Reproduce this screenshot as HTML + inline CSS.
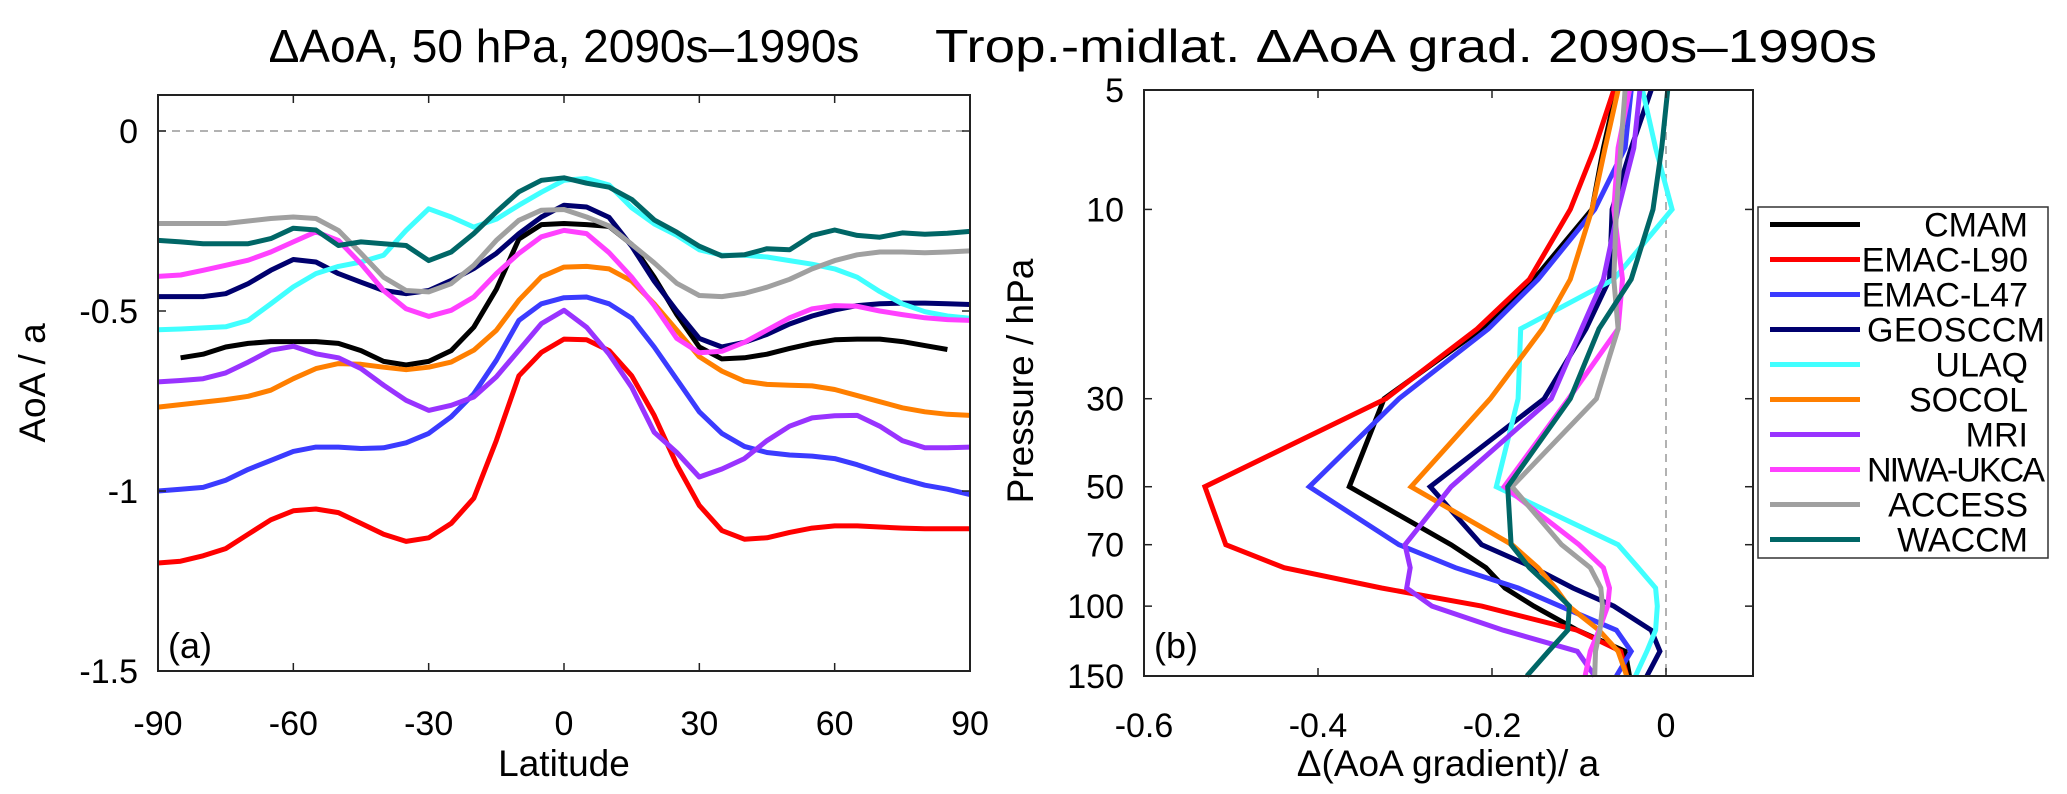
<!DOCTYPE html>
<html><head><meta charset="utf-8"><style>
html,body{margin:0;padding:0;background:#fff;}
svg{display:block;font-family:"Liberation Sans",sans-serif;}
</style></head><body>
<svg id="fig" width="2067" height="794" viewBox="0 0 2067 794" xmlns="http://www.w3.org/2000/svg">
<g id="pa"></g>
<g id="pb"></g>
<g id="lg"></g>
</svg>
<script>
const models = ["CMAM","EMAC-L90","EMAC-L47","GEOSCCM","ULAQ","SOCOL","MRI","NIWA-UKCA","ACCESS","WACCM"];
const colors = ["#000000","#ff0000","#3b3bff","#00006e","#40ffff","#ff7f00","#9933ff","#ff40ff","#a0a0a0","#006666"];
const lats = [-90,-85,-80,-75,-70,-65,-60,-55,-50,-45,-40,-35,-30,-25,-20,-15,-10,-5,0,5,10,15,20,25,30,35,40,45,50,55,60,65,70,75,80,85,90];
const aCMAM = [null,-0.63,-0.62,-0.60,-0.59,-0.585,-0.585,-0.585,-0.59,-0.61,-0.64,-0.65,-0.64,-0.61,-0.545,-0.44,-0.30,-0.26,-0.257,-0.26,-0.265,-0.315,-0.406,-0.51,-0.60,-0.633,-0.63,-0.62,-0.604,-0.59,-0.58,-0.578,-0.578,-0.585,-0.596,-0.607,null];
const aL90 = [-1.20,-1.195,-1.18,-1.16,-1.12,-1.08,-1.055,-1.05,-1.06,-1.09,-1.12,-1.14,-1.13,-1.09,-1.02,-0.86,-0.68,-0.615,-0.578,-0.58,-0.61,-0.68,-0.79,-0.927,-1.04,-1.11,-1.134,-1.13,-1.115,-1.103,-1.097,-1.097,-1.1,-1.103,-1.105,-1.105,-1.105];
const aL47 = [-1.0,-0.995,-0.99,-0.97,-0.94,-0.915,-0.89,-0.878,-0.878,-0.882,-0.88,-0.866,-0.84,-0.794,-0.73,-0.637,-0.526,-0.48,-0.463,-0.461,-0.48,-0.52,-0.60,-0.69,-0.78,-0.84,-0.876,-0.893,-0.90,-0.903,-0.91,-0.927,-0.948,-0.967,-0.984,-0.995,-1.01];
const aGEOS = [-0.46,-0.46,-0.46,-0.452,-0.424,-0.387,-0.357,-0.364,-0.396,-0.42,-0.443,-0.452,-0.443,-0.415,-0.382,-0.34,-0.285,-0.239,-0.206,-0.211,-0.24,-0.32,-0.417,-0.50,-0.576,-0.60,-0.587,-0.565,-0.536,-0.514,-0.497,-0.485,-0.48,-0.478,-0.478,-0.48,-0.482];
const aULAQ = [-0.552,-0.55,-0.547,-0.544,-0.526,-0.48,-0.433,-0.396,-0.376,-0.364,-0.345,-0.276,-0.216,-0.239,-0.267,-0.245,-0.206,-0.17,-0.137,-0.132,-0.15,-0.213,-0.258,-0.29,-0.33,-0.345,-0.345,-0.35,-0.36,-0.37,-0.383,-0.406,-0.446,-0.48,-0.502,-0.514,-0.52];
const aSOCOL = [-0.767,-0.76,-0.753,-0.746,-0.737,-0.72,-0.688,-0.66,-0.646,-0.648,-0.656,-0.663,-0.656,-0.642,-0.609,-0.554,-0.47,-0.405,-0.378,-0.376,-0.383,-0.417,-0.48,-0.553,-0.627,-0.667,-0.695,-0.704,-0.706,-0.708,-0.718,-0.735,-0.752,-0.769,-0.78,-0.787,-0.79];
const aMRI = [-0.697,-0.693,-0.688,-0.672,-0.642,-0.609,-0.598,-0.619,-0.63,-0.66,-0.706,-0.748,-0.776,-0.762,-0.739,-0.683,-0.609,-0.535,-0.498,-0.545,-0.62,-0.712,-0.837,-0.893,-0.961,-0.939,-0.91,-0.86,-0.82,-0.797,-0.791,-0.79,-0.82,-0.86,-0.88,-0.88,-0.878];
const aNIWA = [-0.404,-0.40,-0.387,-0.373,-0.359,-0.336,-0.308,-0.28,-0.304,-0.369,-0.443,-0.494,-0.515,-0.498,-0.461,-0.396,-0.34,-0.294,-0.276,-0.285,-0.338,-0.406,-0.485,-0.576,-0.616,-0.612,-0.587,-0.553,-0.519,-0.494,-0.485,-0.487,-0.50,-0.51,-0.519,-0.524,-0.526];
const aACCESS = [-0.257,-0.257,-0.257,-0.257,-0.25,-0.243,-0.239,-0.243,-0.276,-0.34,-0.406,-0.443,-0.447,-0.424,-0.373,-0.304,-0.248,-0.22,-0.218,-0.239,-0.264,-0.315,-0.366,-0.423,-0.457,-0.46,-0.451,-0.434,-0.412,-0.383,-0.36,-0.344,-0.336,-0.336,-0.338,-0.336,-0.333];
const aWACCM = [-0.304,-0.308,-0.313,-0.313,-0.313,-0.299,-0.27,-0.275,-0.318,-0.308,-0.313,-0.318,-0.36,-0.336,-0.285,-0.225,-0.169,-0.137,-0.13,-0.145,-0.156,-0.19,-0.247,-0.281,-0.32,-0.347,-0.344,-0.327,-0.33,-0.29,-0.275,-0.29,-0.295,-0.283,-0.287,-0.284,-0.279];
const aTicksX = [-90,-60,-30,0,30,60,90];
const aTicksY = [0,-0.5,-1,-1.5];
const aTickLabelsY = ["0","-0.5","-1","-1.5"];

const levels = [5,7,10,15,20,30,50,70,80,90,100,115,130,150];
const bCMAM = [-0.057,-0.072,-0.085,-0.152,-0.212,-0.324,-0.364,-0.247,-0.207,-0.185,-0.152,-0.102,-0.047,-0.042];
const bL90 = [-0.06,-0.082,-0.11,-0.157,-0.217,-0.322,-0.53,-0.506,-0.439,-0.327,-0.212,-0.102,-0.052,-0.045];
const bL47 = [-0.04,-0.047,-0.082,-0.147,-0.204,-0.307,-0.41,-0.307,-0.242,-0.17,-0.122,-0.057,-0.04,-0.057];
const bGEOS = [-0.017,-0.04,-0.062,-0.065,-0.092,-0.14,-0.271,-0.212,-0.152,-0.107,-0.06,-0.017,-0.007,-0.022];
const bULAQ = [-0.027,-0.012,0.007,-0.06,-0.167,-0.17,-0.195,-0.055,-0.032,-0.012,-0.01,-0.012,-0.022,-0.035];
const bSOCOL = [-0.055,-0.07,-0.085,-0.11,-0.142,-0.202,-0.293,-0.177,-0.147,-0.127,-0.112,-0.077,-0.055,-0.045];
const bMRI = [-0.03,-0.037,-0.055,-0.072,-0.097,-0.132,-0.247,-0.3,-0.294,-0.298,-0.269,-0.187,-0.102,-0.082];
const bNIWA = [-0.042,-0.055,-0.06,-0.05,-0.055,-0.112,-0.186,-0.1,-0.072,-0.065,-0.067,-0.077,-0.087,-0.093];
const bACCESS = [-0.047,-0.052,-0.057,-0.06,-0.055,-0.08,-0.177,-0.12,-0.087,-0.075,-0.073,-0.076,-0.081,-0.082];
const bWACCM = [0.002,-0.005,-0.015,-0.04,-0.077,-0.11,-0.182,-0.178,-0.157,-0.132,-0.111,-0.113,-0.135,-0.16];
const bTicksX = [-0.6,-0.4,-0.2,0];
const bTickLabelsX = ["-0.6","-0.4","-0.2","0"];
const bTicksY = [5,10,30,50,70,100,150];

const aSeries = [aCMAM,aL90,aL47,aGEOS,aULAQ,aSOCOL,aMRI,aNIWA,aACCESS,aWACCM];
const bSeries = [bCMAM,bL90,bL47,bGEOS,bULAQ,bSOCOL,bMRI,bNIWA,bACCESS,bWACCM];

const NS = "http://www.w3.org/2000/svg";
function mk(parent, tag, attrs, text){
  const e = document.createElementNS(NS, tag);
  for (const k in attrs) e.setAttribute(k, attrs[k]);
  if (text !== undefined) e.textContent = text;
  parent.appendChild(e);
  return e;
}
const slug = s => s.toLowerCase().replace(/[^a-z0-9]+/g,'-');

// Panel A
const A = {l:158, r:970, t:95, b:671, xmin:-90, xmax:90, ymin:-1.5, ymax:0.1};
const ax = v => A.l + (v - A.xmin) / (A.xmax - A.xmin) * (A.r - A.l);
const ay = v => A.b - (v - A.ymin) / (A.ymax - A.ymin) * (A.b - A.t);
const pa = document.getElementById('pa');
let e;
e = mk(pa,'line',{x1:A.l,x2:A.r,y1:ay(0),y2:ay(0),stroke:'#999','stroke-width':1.5,'stroke-dasharray':'8,6'});
 
aSeries.forEach((s,i)=>{
  let d='', pen=false;
  s.forEach((v,j)=>{ if(v===null){pen=false;return;} d += (pen?'L':'M') + ax(lats[j]).toFixed(1)+','+ay(v).toFixed(1); pen=true; });
  e = mk(pa,'path',{d:d,fill:'none',stroke:colors[i],'stroke-width':5,'stroke-linejoin':'round'});
  
  
});
e = mk(pa,'rect',{x:A.l,y:A.t,width:A.r-A.l,height:A.b-A.t,fill:'none',stroke:'#222','stroke-width':2});
 
aTicksX.forEach(v=>{
  const x=ax(v);
  if(v>-90&&v<90){ mk(pa,'line',{x1:x,x2:x,y1:A.b,y2:A.b-8,stroke:'#222','stroke-width':1.5}); mk(pa,'line',{x1:x,x2:x,y1:A.t,y2:A.t+8,stroke:'#222','stroke-width':1.5}); }
  e = mk(pa,'text',{x:x,y:735,'font-size':34,'text-anchor':'middle'}, String(v));
   
});
aTicksY.forEach((v,i)=>{
  const y=ay(v);
  mk(pa,'line',{x1:A.l,x2:A.l+8,y1:y,y2:y,stroke:'#222','stroke-width':1.5});
  mk(pa,'line',{x1:A.r,x2:A.r-8,y1:y,y2:y,stroke:'#222','stroke-width':1.5});
  e = mk(pa,'text',{x:138,y:y+12,'font-size':34,'text-anchor':'end'}, aTickLabelsY[i]);
   
});
e = mk(pa,'text',{x:564,y:62,'font-size':46,'text-anchor':'middle'},'ΔAoA, 50 hPa, 2090s–1990s');
 
e = mk(pa,'text',{x:564,y:776,'font-size':37,'text-anchor':'middle'},'Latitude');
 
e = mk(pa,'text',{x:0,y:0,'font-size':37,'text-anchor':'middle',transform:'translate(45,383) rotate(-90)'},'AoA / a');
 
e = mk(pa,'text',{x:168,y:658,'font-size':36},'(a)');
 

// Panel B
const B = {l:1144, r:1753, t:90, b:676, xmin:-0.6, xmax:0.1, pmin:5, pmax:150};
const bx = v => B.l + (v - B.xmin) / (B.xmax - B.xmin) * (B.r - B.l);
const by = p => B.t + Math.log(p/B.pmin) / Math.log(B.pmax/B.pmin) * (B.b - B.t);
const pb = document.getElementById('pb');
e = mk(pb,'line',{x1:bx(0),x2:bx(0),y1:B.t,y2:B.b,stroke:'#999','stroke-width':1.5,'stroke-dasharray':'8,6'});
 
bSeries.forEach((s,i)=>{
  let d='';
  s.forEach((v,j)=>{ d += (j?'L':'M') + bx(v).toFixed(1)+','+by(levels[j]).toFixed(1); });
  e = mk(pb,'path',{d:d,fill:'none',stroke:colors[i],'stroke-width':5,'stroke-linejoin':'miter'});
  
  
});
e = mk(pb,'rect',{x:B.l,y:B.t,width:B.r-B.l,height:B.b-B.t,fill:'none',stroke:'#222','stroke-width':2});
 
bTicksX.forEach((v,i)=>{
  const x=bx(v);
  if(i>0){ mk(pb,'line',{x1:x,x2:x,y1:B.b,y2:B.b-8,stroke:'#222','stroke-width':1.5}); mk(pb,'line',{x1:x,x2:x,y1:B.t,y2:B.t+8,stroke:'#222','stroke-width':1.5}); }
  e = mk(pb,'text',{x:x,y:737,'font-size':34,'text-anchor':'middle'}, bTickLabelsX[i]);
   
});
bTicksY.forEach(p=>{
  const y=by(p);
  mk(pb,'line',{x1:B.l,x2:B.l+8,y1:y,y2:y,stroke:'#222','stroke-width':1.5});
  mk(pb,'line',{x1:B.r,x2:B.r-8,y1:y,y2:y,stroke:'#222','stroke-width':1.5});
  e = mk(pb,'text',{x:1124,y:y+12,'font-size':34,'text-anchor':'end'}, String(p));
   
});
e = mk(pb,'text',{x:935,y:62,'font-size':46,'text-anchor':'start',textLength:942,lengthAdjust:'spacingAndGlyphs'},'Trop.-midlat. ΔAoA grad. 2090s–1990s');
 
e = mk(pb,'text',{x:1448,y:776,'font-size':37,'text-anchor':'middle'},'Δ(AoA gradient)/ a');
 
e = mk(pb,'text',{x:0,y:0,'font-size':37,'text-anchor':'middle',transform:'translate(1033,381) rotate(-90)'},'Pressure / hPa');
 
e = mk(pb,'text',{x:1154,y:658,'font-size':36},'(b)');
 

// Legend
const lg = document.getElementById('lg');
e = mk(lg,'rect',{x:1758,y:207,width:290,height:351,fill:'#fff',stroke:'#333','stroke-width':1.5});
 
models.forEach((m,i)=>{
  const y = 224.5 + i*35;
  const g = mk(lg,'g',{});
  
  
  mk(g,'line',{x1:1770,x2:1860,y1:y,y2:y,stroke:colors[i],'stroke-width':5});
  const long = (m==='GEOSCCM'||m==='NIWA-UKCA');
  const t = mk(g,'text',{x:long?2045:2028,y:y+12,'font-size':34,'text-anchor':'end'}, m);
  if(long) t.setAttribute('textLength', 178);
});
</script>
</body></html>
